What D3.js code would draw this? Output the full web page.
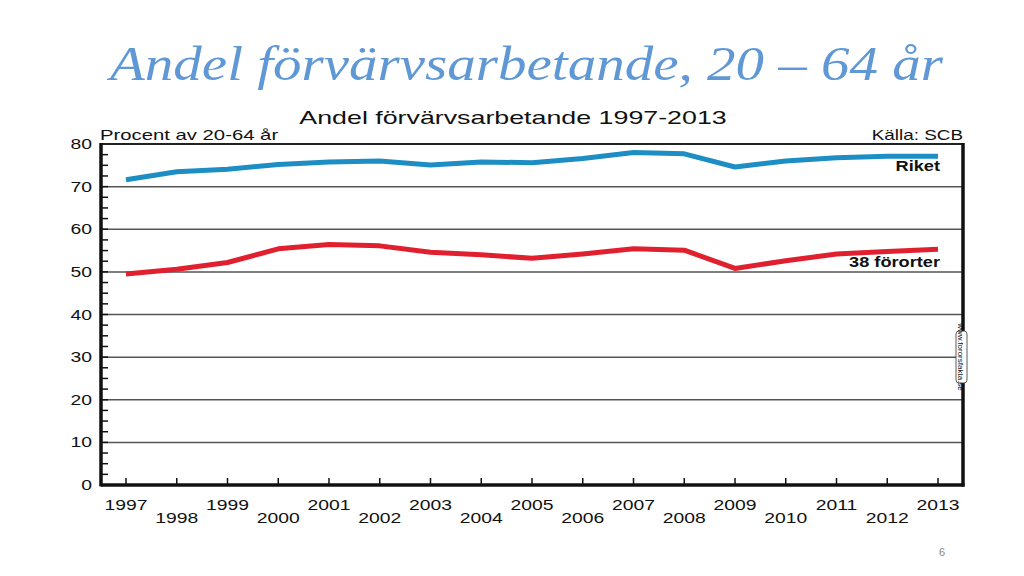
<!DOCTYPE html>
<html><head><meta charset="utf-8">
<script src="https://cdn.jsdelivr.net/npm/d3@7"></script>
<style>body{margin:0;background:#fff}svg{display:block}</style>
</head><body>
<svg id="c" width="1024" height="576"></svg>
<script>
const years = [1997,1998,1999,2000,2001,2002,2003,2004,2005,2006,2007,2008,2009,2010,2011,2012,2013];
const riket = [71.6,73.5,74.1,75.2,75.8,76.0,75.1,75.8,75.6,76.6,78.0,77.7,74.6,76.0,76.8,77.1,77.1];
const fororter = [49.5,50.6,52.2,55.4,56.4,56.1,54.6,54.0,53.2,54.2,55.4,55.1,50.8,52.6,54.2,54.8,55.3];
const yTicks = [0,10,20,30,40,50,60,70,80];

const svg = d3.select("#c");
const L = 101, R = 963, T = 144, B = 485;
const x = d3.scaleLinear().domain([1997,2013]).range([126,938]);
const y = d3.scaleLinear().domain([0,80]).range([B,T]);
const SANS = "Liberation Sans, Arial, sans-serif";
const SX = 1.38;

function stxt(g, tx, ty, anchor, size, txt, opts={}) {
  const t = g.append("text")
    .attr("transform", `translate(${tx},${ty}) scale(${opts.sx||SX},1)`)
    .attr("text-anchor", anchor).attr("font-family", opts.family||SANS)
    .attr("font-size", size).attr("fill", opts.fill||"#111").text(txt);
  if (opts.bold) t.attr("font-weight","bold");
  if (opts.italic) t.attr("font-style","italic");
  return t;
}

// slide title
svg.append("text").attr("x",110).attr("y",80)
  .attr("font-family","Liberation Serif, serif").attr("font-style","italic")
  .attr("font-size",48).attr("fill","#5f98d4")
  .attr("textLength",833).attr("lengthAdjust","spacingAndGlyphs")
  .text("Andel förvärvsarbetande, 20 – 64 år");

// chart title
stxt(svg, 513, 124, "middle", 19, "Andel förvärvsarbetande 1997-2013", {sx:1.41});
stxt(svg, 100, 140, "start", 14, "Procent av 20-64 år", {sx:1.45});
stxt(svg, 963, 140, "end", 14, "Källa: SCB", {sx:1.35});

// gridlines
svg.append("g").selectAll("line").data(yTicks.filter(d=>d>0&&d<80)).join("line")
  .attr("x1",L).attr("x2",R).attr("y1",d=>y(d)).attr("y2",d=>y(d))
  .attr("stroke","#555").attr("stroke-width",1.5);

// minor y ticks
const minor = d3.range(0,80.01,2.5);
svg.append("g").selectAll("line").data(minor).join("line")
  .attr("x1",L).attr("x2",L+7).attr("y1",d=>y(d)).attr("y2",d=>y(d))
  .attr("stroke","#111").attr("stroke-width",1.5);

// x ticks
svg.append("g").selectAll("line").data(years).join("line")
  .attr("x1",d=>x(d)).attr("x2",d=>x(d)).attr("y1",B).attr("y2",B-7)
  .attr("stroke","#111").attr("stroke-width",1.5);

// frame
svg.append("line").attr("x1",L).attr("x2",R).attr("y1",T).attr("y2",T).attr("stroke","#222").attr("stroke-width",2);
svg.append("line").attr("x1",L).attr("x2",L).attr("y1",T-1).attr("y2",B+1.5).attr("stroke","#111").attr("stroke-width",3.5);
svg.append("line").attr("x1",R).attr("x2",R).attr("y1",T-1).attr("y2",B+1.5).attr("stroke","#111").attr("stroke-width",3.5);
svg.append("line").attr("x1",L).attr("x2",R+1.5).attr("y1",B).attr("y2",B).attr("stroke","#111").attr("stroke-width",3.5);

// y labels
const gy = svg.append("g");
yTicks.forEach(d => stxt(gy, 92, y(d)+5, "end", 14, d));

// x labels
const gx = svg.append("g");
years.forEach((d,i) => stxt(gx, x(d), i%2===0?510:523, "middle", 14, d));

// lines
const line = d3.line().x((d,i)=>x(years[i])).y(d=>y(d));
svg.append("path").datum(riket).attr("d",line).attr("fill","none")
  .attr("stroke","#1d8ec3").attr("stroke-width",5).attr("stroke-linejoin","round");
svg.append("path").datum(fororter).attr("d",line).attr("fill","none")
  .attr("stroke","#e0202f").attr("stroke-width",5).attr("stroke-linejoin","round");

// series labels
stxt(svg, 940, 171, "end", 14, "Riket", {bold:true, sx:1.3});
stxt(svg, 940, 267, "end", 14, "38 förorter", {bold:true, sx:1.3});

// watermark
const wm = svg.append("g").attr("transform","translate(961,357) rotate(90)");
wm.append("rect").attr("x",-26).attr("y",-6).attr("width",52).attr("height",11).attr("rx",3)
  .attr("fill","#fff").attr("stroke","#333").attr("stroke-width",0.8);
wm.append("text").attr("x",0).attr("y",3).attr("text-anchor","middle")
  .attr("font-family","Liberation Sans Narrow, Arial, sans-serif").attr("font-size",8).attr("fill","#111")
  .text("www.fororsfakta.se");

// page number
svg.append("text").attr("x",942).attr("y",556).attr("text-anchor","middle")
  .attr("font-family",SANS).attr("font-size",11).attr("fill","#888")
  .text("6");
</script>
</body></html>
